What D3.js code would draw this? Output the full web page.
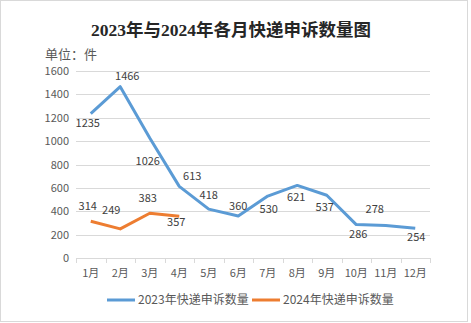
<!DOCTYPE html>
<html>
<head>
<meta charset="utf-8">
<script src="https://cdn.jsdelivr.net/npm/d3@7"></script>
<style>
  html, body { margin: 0; padding: 0; background: #fff; }
  svg { display: block; }
  text { font-family: "Noto Sans CJK SC", "DejaVu Sans", sans-serif; fill: #595959; }
</style>
</head>
<body>
<script>
// Monthly express-delivery complaint counts
const months = ["1月","2月","3月","4月","5月","6月","7月","8月","9月","10月","11月","12月"];
const values2023 = [1235, 1466, 1026, 613, 418, 360, 530, 621, 537, 286, 278, 254];
const values2024 = [314, 249, 383, 357];
const yTicks = [0, 200, 400, 600, 800, 1000, 1200, 1400, 1600];
const seriesNames = ["2023年快递申诉数量", "2024年快递申诉数量"];

// label offsets (px) from each point
const offsets2023 = [[-3, 9], [7, -11], [-2, 23], [13, -10], [0, -14], [0, -10], [1, 13], [-1, 12], [-2, 12], [2, 10], [-11, -16], [1, 9]];
const offsets2024 = [[-3, -15], [-9, -19], [-2, -15], [-3, 6]];

const W = 471, H = 323;
const colors = ["#5B9BD5", "#ED7D31"];

const svg = d3.select("body").append("svg").attr("width", W).attr("height", H);

svg.append("rect")
  .attr("x", 0.5).attr("y", 0.5).attr("width", 467).attr("height", 321)
  .attr("fill", "#fff").attr("stroke", "#D9D9D9");

svg.append("text")
  .attr("x", 231).attr("y", 36)
  .attr("text-anchor", "middle")
  .style("font-family", "'Liberation Serif', 'Noto Sans CJK SC', serif")
  .style("font-weight", "bold").style("font-size", "17.5px")
  .style("fill", "#262626")
  .text("2023年与2024年各月快递申诉数量图");

svg.append("text")
  .attr("x", 45).attr("y", 59)
  .style("font-size", "13px")
  .text("单位：件");

const x = d3.scaleBand().domain(months).range([76, 430]);
const y = d3.scaleLinear().domain([0, 1600]).range([258, 71]);

// gridlines
svg.append("g").selectAll("line").data(yTicks.filter(t => t > 0)).join("line")
  .attr("x1", 76).attr("x2", 430)
  .attr("y1", d => Math.round(y(d)) + 0.5).attr("y2", d => Math.round(y(d)) + 0.5)
  .attr("stroke", "#D9D9D9");

// y axis labels
const yAxis = svg.append("g").attr("transform", "translate(69,0)")
  .call(d3.axisLeft(y).tickValues(yTicks).tickFormat(d3.format("d")).tickSize(0).tickPadding(0));
yAxis.select(".domain").remove();
yAxis.selectAll("text").style("font-size", "11px").style("fill", "#595959")
  .style("font-family", "'Noto Sans CJK SC', 'DejaVu Sans', sans-serif");

// x axis baseline + ticks at band boundaries
svg.append("line")
  .attr("x1", 76).attr("x2", 430).attr("y1", 258.5).attr("y2", 258.5)
  .attr("stroke", "#D9D9D9");
svg.append("g").selectAll("line").data(months.concat(["end"])).join("line")
  .attr("x1", (d, i) => Math.round(76 + i * x.step()) + 0.5)
  .attr("x2", (d, i) => Math.round(76 + i * x.step()) + 0.5)
  .attr("y1", 258).attr("y2", 263)
  .attr("stroke", "#D9D9D9");
svg.append("g").selectAll("text").data(months).join("text")
  .attr("x", d => x(d) + x.bandwidth() / 2)
  .attr("y", 277)
  .attr("text-anchor", "middle")
  .style("font-size", "11px")
  .text(d => d);

const cx = i => x(months[i]) + x.bandwidth() / 2;
const line = d3.line().x((d, i) => cx(i)).y(d => y(d));

[values2023, values2024].forEach((vals, s) => {
  svg.append("path").datum(vals)
    .attr("d", line)
    .attr("fill", "none")
    .attr("stroke", colors[s])
    .attr("stroke-width", 3)
    .attr("stroke-linejoin", "round");
});

[[values2023, offsets2023], [values2024, offsets2024]].forEach(([vals, offs]) => {
  svg.append("g").selectAll("text").data(vals).join("text")
    .attr("x", (d, i) => cx(i) + offs[i][0])
    .attr("y", (d, i) => y(d) + offs[i][1])
    .attr("dy", "0.35em")
    .attr("text-anchor", "middle")
    .style("font-size", "11px")
    .style("fill", "#404040")
    .text(d => d);
});

// legend
const legendX = [107, 252];
seriesNames.forEach((name, s) => {
  svg.append("line")
    .attr("x1", legendX[s]).attr("x2", legendX[s] + 28)
    .attr("y1", 300).attr("y2", 300)
    .attr("stroke", colors[s]).attr("stroke-width", 3);
  svg.append("text")
    .attr("x", legendX[s] + 31).attr("y", 300).attr("dy", "0.35em")
    .style("font-size", "12px")
    .text(name);
});
</script>
</body>
</html>
